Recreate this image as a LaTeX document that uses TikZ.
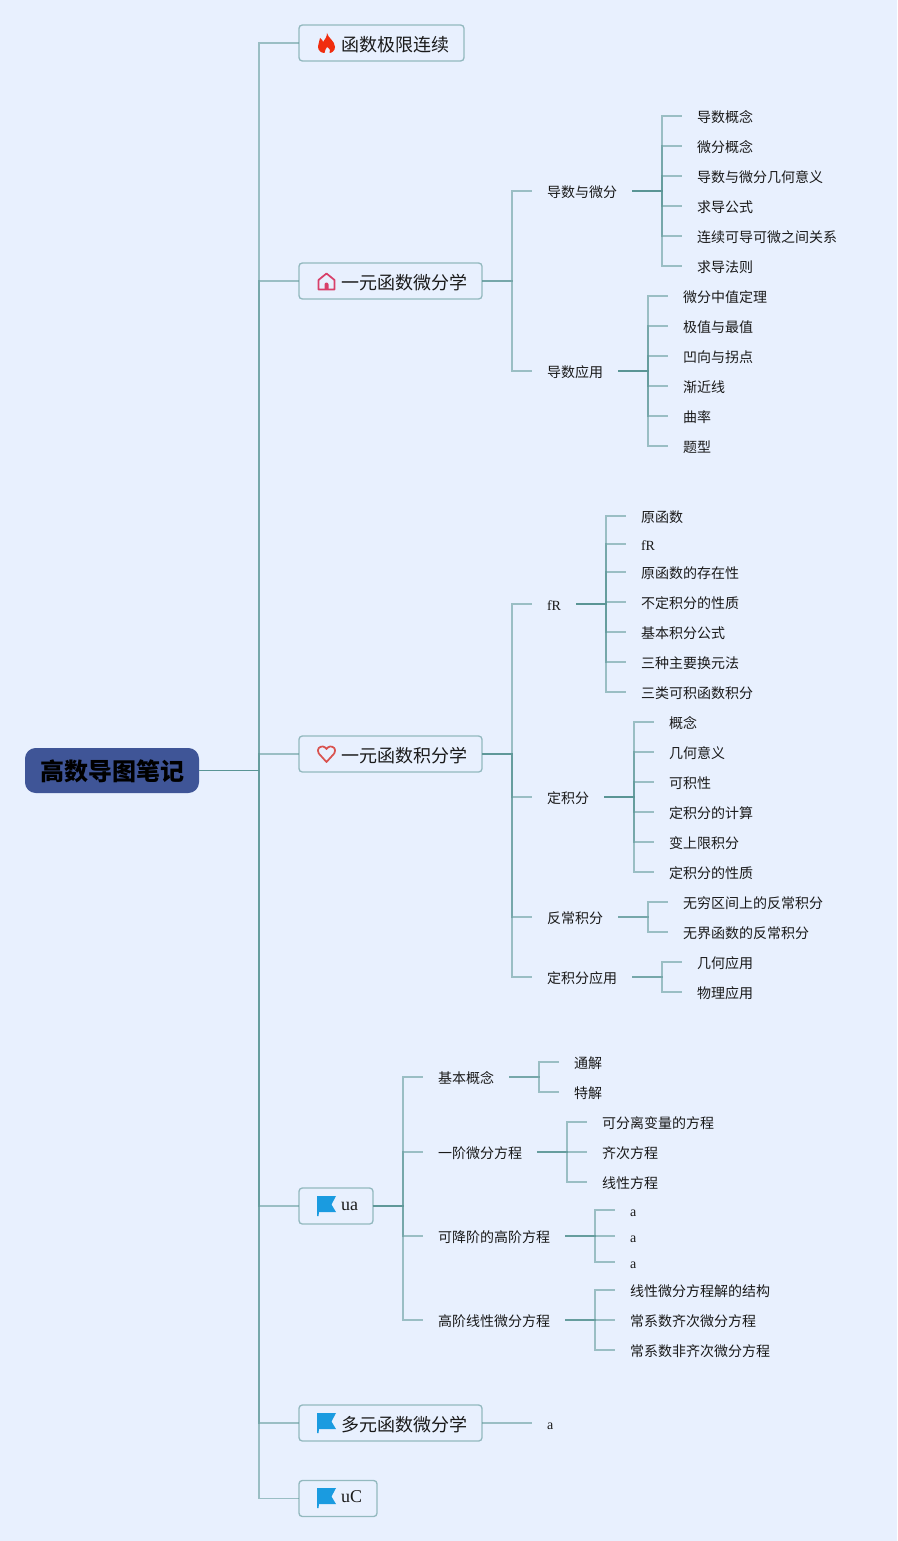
\documentclass[tikz,border=0pt]{standalone}
\usepackage{fontspec}
\setmainfont{Liberation Serif}
\newfontfamily\cjk{Noto Sans CJK SC}
\definecolor{pagebg}{HTML}{E8F0FE}
\definecolor{linkc}{HTML}{5A9595}
\definecolor{ink}{HTML}{1A1A1A}
\definecolor{rootfill}{HTML}{3F5597}
\definecolor{boxline}{HTML}{93B9BF}
\definecolor{flamec}{HTML}{F02D0F}
\definecolor{housec}{HTML}{D8406A}
\definecolor{heartc}{HTML}{D9534F}
\definecolor{flagc}{HTML}{1A9BE0}
\tikzset{
  x=0.75pt,y=-0.75pt,
  link/.style={draw=linkc,opacity=.55,line width=1.125pt,
    to path={(\tikztostart.east) -- ++(30,0) |- (\tikztotarget.west)}},
  toplink/.style={draw=linkc,opacity=.55,line width=1.125pt},
  rootstub/.style={draw=linkc,line width=.75pt},
  leaf/.style={anchor=west,inner xsep=11.25pt,inner ysep=0pt,outer sep=0pt,font=\fontsize{10.5pt}{12pt}\selectfont\cjk,text=ink,text height=9.5pt,text depth=0pt},
  leaflatin/.style={anchor=west,inner xsep=11.25pt,inner ysep=0pt,outer sep=0pt,font=\fontsize{10.5pt}{12pt}\selectfont,text=ink,text height=10.1pt,text depth=0pt},
  topic/.style={anchor=west,draw=boxline,line width=1pt,rounded corners=2.5pt,inner xsep=11.25pt,inner ysep=0pt,outer sep=0pt,minimum height=27pt,font=\fontsize{13.5pt}{15pt}\selectfont\cjk,text=ink,text height=13.7pt,text depth=0.5pt},
  topiclatin/.style={topic,font=\fontsize{13.5pt}{15pt}\selectfont,text height=6.5pt,text depth=0pt},
  rootnode/.style={draw=none,fill=rootfill,rounded corners=8pt,minimum width=130.5pt,minimum height=33.75pt,inner sep=0pt,outer sep=0pt,font=\fontsize{18pt}{20pt}\selectfont\cjk\bfseries,text=black,text height=15.2pt,text depth=0pt},
  flagshape/.style={fill=flagc},
}
\newcommand{\ipad}{\hspace*{20.25pt}}
\newcommand{\branch}[3]{\foreach \nm/\yy/\txt in {#3}{\node[leaf] (\nm) at (#2,\yy) {\txt}; \draw[link] (#1) to (\nm);}}
\newcommand{\flagicon}[2]{\fill[flagshape] (#1+0,#2+0) -- (#1+19,#2+0) -- (#1+14.5,#2+8.5) -- (#1+19,#2+16) -- (#1+2,#2+16) -- (#1+1.5,#2+20) -- (#1+0,#2+20) -- cycle;}
\begin{document}
\begin{tikzpicture}
\useasboundingbox (0,0) rectangle (897,1541);
\fill[pagebg] (0,0) rectangle (897,1541);
% root and topics
\node[rootnode] (root) at (112,770.5) {高数导图笔记};
\coordinate (hub) at (259,770);
\node[topic] (t1) at (299,43) {\ipad 函数极限连续};
\node[topic] (t2) at (299,281) {\ipad 一元函数微分学};
\node[topic] (t3) at (299,754) {\ipad 一元函数积分学};
\node[topiclatin] (t4) at (299,1206) {\ipad ua};
\node[topic] (t5) at (299,1423) {\ipad 多元函数微分学};
\node[topiclatin] (t6) at (299,1498.5) {\ipad uC};
\draw[rootstub] (root.east |- hub) -- (hub);
\foreach \t in {t1,t2,t3,t4,t5,t6}{\draw[toplink] (hub) |- (\t.west);}
% icons
\fill[flamec] (327,33) .. controls (328,38) and (335,41) .. (335,47) .. controls (335,50.5) and (332,53) .. (329.5,53) .. controls (331,51.5) and (330,48.5) .. (327,47) .. controls (327,49) and (323.5,50.5) .. (324.5,53) .. controls (321,53) and (318,50.5) .. (318,46.5) .. controls (318,43) and (320,41) .. (320,38) .. controls (322,39) and (323,41) .. (323,42) .. controls (325,39) and (327,37) .. (327,33) -- cycle;
\draw[housec,line width=1.3pt,line join=round] (318.5,289.5) -- (318.5,280) -- (326.5,273.5) -- (334.5,280) -- (334.5,289.5) -- cycle;
\fill[housec] (324.5,289.5) -- (324.5,284.5) arc (180:0:2 and -2) -- (328.5,289.5) -- cycle;
\draw[heartc,line width=1.3pt,line join=round] (326.5,762) -- (318.8,753.5) .. controls (316,749) and (320,746) .. (323,746.5) .. controls (325,747) and (326,748) .. (326.5,749) .. controls (327,748) and (328,747) .. (330,746.5) .. controls (333,746) and (337,749) .. (334.2,753.5) -- cycle;
\flagicon{317}{1196}
\flagicon{317}{1413}
\flagicon{317}{1488}
% second level
\node[leaf] (d1) at (532,191) {导数与微分};
\node[leaf] (d2) at (532,371) {导数应用};
\draw[link] (t2) to (d1); \draw[link] (t2) to (d2);
\node[leaflatin] (j1) at (532,604) {fR};
\node[leaf] (j2) at (532,797) {定积分};
\node[leaf] (j3) at (532,917) {反常积分};
\node[leaf] (j4) at (532,977) {定积分应用};
\foreach \c in {j1,j2,j3,j4}{\draw[link] (t3) to (\c);}
\node[leaf] (u1) at (423,1077) {基本概念};
\node[leaf] (u2) at (423,1152) {一阶微分方程};
\node[leaf] (u3) at (423,1236) {可降阶的高阶方程};
\node[leaf] (u4) at (423,1320) {高阶线性微分方程};
\foreach \c in {u1,u2,u3,u4}{\draw[link] (t4) to (\c);}
\node[leaflatin] (m1) at (532,1423) {a};
\draw[link] (t5) to (m1);
% leaves
\branch{d1}{682}{a1/116/导数概念,a2/146/微分概念,a3/176/导数与微分几何意义,a4/206/求导公式,a5/236/连续可导可微之间关系,a6/266/求导法则}
\branch{d2}{668}{b1/296/微分中值定理,b2/326/极值与最值,b3/356/凹向与拐点,b4/386/渐近线,b5/416/曲率,b6/446/题型}
\node[leaf] (c1) at (626,516) {原函数}; \draw[link] (j1) to (c1);
\node[leaflatin] (c2) at (626,544) {fR}; \draw[link] (j1) to (c2);
\node[leaf] (c3) at (626,572) {原函数的存在性}; \draw[link] (j1) to (c3);
\node[leaf] (c4) at (626,602) {不定积分的性质}; \draw[link] (j1) to (c4);
\node[leaf] (c5) at (626,632) {基本积分公式}; \draw[link] (j1) to (c5);
\node[leaf] (c6) at (626,662) {三种主要换元法}; \draw[link] (j1) to (c6);
\node[leaf] (c7) at (626,692) {三类可积函数积分}; \draw[link] (j1) to (c7);
\branch{j2}{654}{e1/722/概念,e2/752/几何意义,e3/782/可积性,e4/812/定积分的计算,e5/842/变上限积分,e6/872/定积分的性质}
\branch{j3}{668}{f1/902/无穷区间上的反常积分,f2/932/无界函数的反常积分}
\branch{j4}{682}{g1/962/几何应用,g2/992/物理应用}
\branch{u1}{559}{h1/1062/通解,h2/1092/特解}
\branch{u2}{587}{i1/1122/可分离变量的方程,i2/1152/齐次方程,i3/1182/线性方程}
\node[leaflatin] (k1) at (615,1210) {a}; \draw[link] (u3) to (k1);
\node[leaflatin] (k2) at (615,1236) {a}; \draw[link] (u3) to (k2);
\node[leaflatin] (k3) at (615,1262) {a}; \draw[link] (u3) to (k3);
\branch{u4}{615}{l1/1290/线性微分方程解的结构,l2/1320/常系数齐次微分方程,l3/1350/常系数非齐次微分方程}
\end{tikzpicture}
\end{document}
